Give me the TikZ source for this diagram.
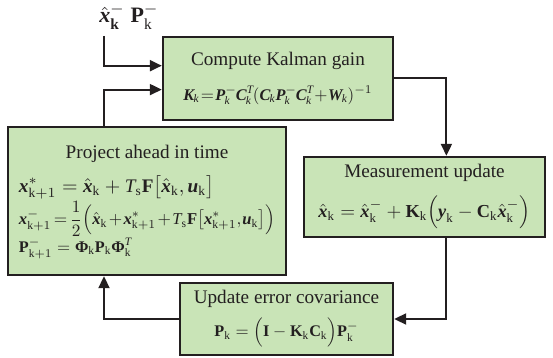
\documentclass[tikz,border=0pt]{standalone}
\usepackage{amsmath,amssymb}
\usepackage{graphicx}
\usepackage{fontspec}
\setmainfont{Liberation Serif}
\usepackage{tikz}
\usetikzlibrary{arrows.meta,positioning,calc}
\definecolor{boxgreen}{RGB}{201,228,183}
\definecolor{inkblack}{RGB}{35,31,32}
\newcommand{\bi}[1]{\text{\bfseries\itshape #1}}
\newcommand{\xh}{\hat{\bi{x}}}
\newcommand{\sk}{\mathrm{k}}
\newcommand{\eqfit}[2]{\resizebox{#1}{!}{$\displaystyle #2$}}
\newcommand{\eqtight}[2]{\resizebox{#1}{!}{\medmuskip=1.5mu\thickmuskip=2.5mu\thinmuskip=1mu$\displaystyle #2$}}

\begin{document}
\begin{tikzpicture}[x=0.5pt,y=-0.5pt,
  stage/.style={draw=inkblack,line width=1.2pt,fill=boxgreen,inner sep=0pt,
    text=inkblack,font=\fontsize{9.6}{11.5}\selectfont},
  flow/.style={draw=inkblack,line width=1pt,-{Triangle[length=6pt,width=5.5pt]}}]
  \useasboundingbox (0,0) rectangle (553,358); % 余白を含めた全体の大きさ
  \node[stage,minimum width=115pt,minimum height=41.5pt,align=center] (gain) at (278,78.5)
    {Compute Kalman gain\\[6pt]
     \eqtight{94.5pt}{\bi{K}_{\!\mathit{k}}\!=\!\bi{P}_{\!\mathit{k}}^{-}\!\bi{C}_{\!\mathit{k}}^{\mathit{T}}\!(\bi{C}_{\!\mathit{k}}\bi{P}_{\!\mathit{k}}^{-}\!\bi{C}_{\!\mathit{k}}^{\mathit{T}}\!+\!\bi{W}_{\!\mathit{k}})^{-1}}}; % カルマンゲインの計算
  \node[stage,minimum width=139pt,minimum height=74pt] (proj) at (147,201)
    {\begin{tabular}{@{}l@{}}
     \multicolumn{1}{c}{Project ahead in time}\\[5pt]
     \eqfit{97.5pt}{\bi{x}^{*}_{\sk+1}=\xh_{\sk}+\mathit{T}_{\mathrm{s}}\mathbf{F}\bigl[\xh_{\sk},\bi{u}_{\sk}\bigr]}\\[1pt]
     \eqtight{128pt}{\bi{x}^{-}_{\sk+1}=\frac{1}{2}\Bigl(\xh_{\sk}+\bi{x}^{*}_{\sk+1}+\mathit{T}_{\mathrm{s}}\mathbf{F}\bigl[\bi{x}^{*}_{\sk+1},\bi{u}_{\sk}\bigr]\Bigr)}\\[1pt]
     \eqfit{56.5pt}{\mathbf{P}^{-}_{\sk+1}=\mathbf{Φ}_{\sk}\mathbf{P}_{\sk}\mathbf{Φ}_{\sk}^{\mathit{T}}}
     \end{tabular}}; % 時間更新（予測）
  \node[stage,minimum width=120.5pt,minimum height=40pt,align=center] (meas) at (424.5,197)
    {Measurement update\\[6pt]
     \eqfit{106pt}{\xh_{\sk}=\xh^{-}_{\sk}+\mathbf{K}_{\sk}\Bigl(\bi{y}_{\sk}-\mathbf{C}_{\sk}\xh^{-}_{\sk}\Bigr)}}; % 観測更新
  \node[stage,minimum width=106.5pt,minimum height=36pt,align=center] (upd) at (286.5,319)
    {Update error covariance\\[4pt]
     \eqfit{72pt}{\mathbf{P}_{\sk}=\Bigl(\mathbf{I}-\mathbf{K}_{\sk}\mathbf{C}_{\sk}\Bigr)\mathbf{P}^{-}_{\sk}}}; % 誤差共分散の更新
  \node[anchor=south west,inner sep=0pt,text=inkblack,font=\fontsize{11}{13}\selectfont] (est) at (99,30)
    {$\xh^{-}_{\mathbf{k}}\;\mathbf{P}^{-}_{\sk}$}; % 初期推定値
  \coordinate (estout) at (104,36); % 入力線の始点
  \draw[flow] (estout) |- ($(gain.north west)!0.35!(gain.south west)$); % 初期値からゲイン計算へ
  \draw[flow] (proj.north -| estout) |- ($(gain.north west)!0.63!(gain.south west)$); % 予測からゲイン計算へ
  \draw[flow] (gain.east) -| ($(meas.north west)!0.59!(meas.north east)$); % ゲインから観測更新へ
  \draw[flow] ($(meas.south west)!0.59!(meas.south east)$) |- (upd.east); % 観測更新から共分散更新へ
  \draw[flow] (upd.west) -| (proj.south -| estout); % 共分散更新から予測へ
\end{tikzpicture}
\end{document}
